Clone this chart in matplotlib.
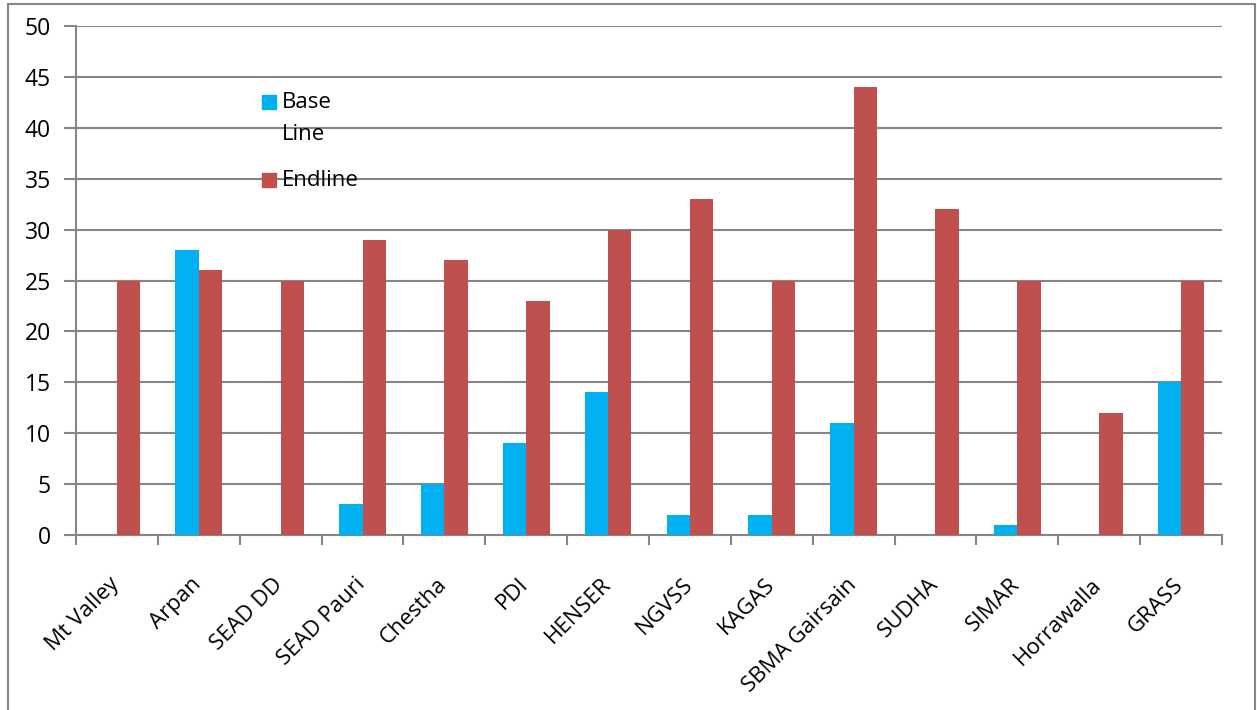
import numpy as np
import matplotlib.pyplot as plt
from matplotlib.patches import Rectangle
from matplotlib.transforms import ScaledTranslation

# values
orgs = ["Mt Valley", "Arpan", "SEAD DD", "SEAD Pauri", "Chestha", "PDI", "HENSER",
        "NGVSS", "KAGAS", "SBMA Gairsain", "SUDHA", "SIMAR", "Horrawalla", "GRASS"]
baseline = [0, 28, 0, 3, 5, 9, 14, 2, 2, 11, 0, 1, 0, 15]
endline = [25, 26, 25, 29, 27, 23, 30, 33, 25, 44, 32, 25, 12, 25]

plt.rcParams['font.family'] = ['Open Sans', 'DejaVu Sans']

W, H = 1257, 710
fig = plt.figure(figsize=(W / 100, H / 100), dpi=100)
ax = fig.add_axes([76 / W, 1 - 535 / H, 1146 / W, 509 / H])

grid_col = "#868686"
blue, red = "#00B0F0", "#C0504D"
x = np.arange(len(orgs))
w = 0.286
ax.bar(x - w / 2, baseline, w, color=blue, zorder=3)
ax.bar(x + w / 2, endline, w, color=red, zorder=3)

ax.set_xlim(-0.5, len(orgs) - 0.5)
ax.set_ylim(0, 50)
ax.set_yticks(range(0, 51, 5))
ax.yaxis.grid(True, color=grid_col, linewidth=1.5, zorder=0)
ax.tick_params(axis='y', length=9, width=1.5, color=grid_col, labelsize=16.5, pad=9)

# category labels at centres, boundary ticks below the axis
ax.set_xticks(x)
ax.set_xticklabels(orgs, rotation=45, ha='right', rotation_mode='anchor', fontsize=16)
ax.tick_params(axis='x', length=0, pad=28)
shift = ScaledTranslation(-8 / 100, 0, fig.dpi_scale_trans)
for lab in ax.get_xticklabels():
    lab.set_transform(lab.get_transform() + shift)
ax.set_xticks(np.arange(-0.5, len(orgs), 1), minor=True)
ax.tick_params(axis='x', which='minor', length=7, width=1.5, color=grid_col)

for s in ['top', 'right']:
    ax.spines[s].set_visible(False)
for s in ['left', 'bottom']:
    ax.spines[s].set_color(grid_col)
    ax.spines[s].set_linewidth(1.5)

# legend drawn by hand: the marker sits on the first line of "Base Line"
for (y0, col) in [(95, blue), (173, red)]:
    fig.patches.append(Rectangle((262 / W, 1 - (y0 + 14) / H), 14 / W, 14 / H,
                                 transform=fig.transFigure, color=col, zorder=5))
for (yc, txt) in [(102, "Base"), (134, "Line"), (180, "Endline")]:
    fig.text(282 / W, 1 - yc / H, txt, fontsize=16, va='center', ha='left', zorder=6)

# outer chart border
fig.patches.append(Rectangle((8 / W, -0.02), 1247 / W, 1.02 - 4 / H,
                             transform=fig.transFigure, fill=False,
                             edgecolor=grid_col, linewidth=1.5))

fig.savefig("out.png", dpi=100)
